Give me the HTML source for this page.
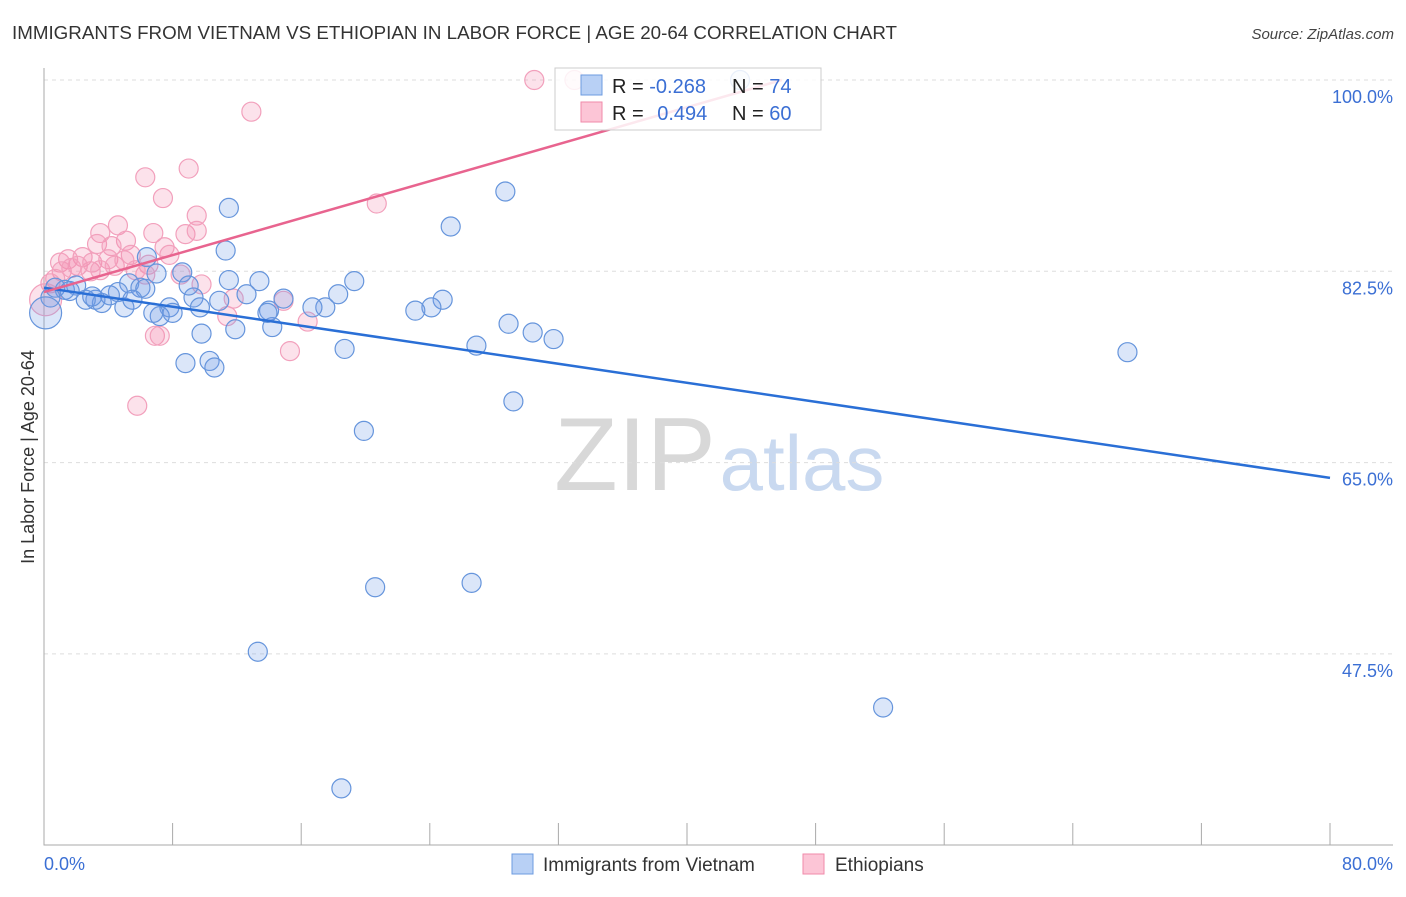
<!DOCTYPE html>
<html><head><meta charset="utf-8"><style>
body{margin:0;background:#fff;font-family:"Liberation Sans",sans-serif;}
svg text{font-family:"Liberation Sans",sans-serif;}
</style></head><body>
<svg id="chart" width="1406" height="892" xmlns="http://www.w3.org/2000/svg">
<text x="12" y="39" font-size="18" fill="#333" textLength="885" lengthAdjust="spacingAndGlyphs">IMMIGRANTS FROM VIETNAM VS ETHIOPIAN IN LABOR FORCE | AGE 20-64 CORRELATION CHART</text>
<text x="1394" y="39" font-size="15" fill="#444" text-anchor="end" font-style="italic">Source: ZipAtlas.com</text>
<text transform="translate(34,457) rotate(-90)" font-size="18" fill="#333" text-anchor="middle">In Labor Force | Age 20-64</text>
<g id="watermark">
<text x="635" y="490" font-size="104" fill="#d8d8d8" text-anchor="middle" font-family="Liberation Serif,serif">ZIP</text>
<text x="802" y="490" font-size="78" fill="#c9d9f0" text-anchor="middle">atlas</text>
</g>
<g id="grid"></g><g id="axes"></g><g id="points"></g><g id="lines"></g>
<g>
<rect x="555" y="68" width="266" height="62" fill="#fff" fill-opacity="0.85" stroke="#ccc"/>
<rect x="581" y="75" width="21" height="20" fill="#b8d0f5" stroke="#6c9be0"/>
<rect x="581" y="102" width="21" height="20" fill="#fcc5d6" stroke="#f08aaa"/>
<text x="612" y="93" font-size="20" fill="#222">R = <tspan fill="#3b6fd4">-0.268</tspan></text>
<text x="732" y="93" font-size="20" fill="#222">N = <tspan fill="#3b6fd4">74</tspan></text>
<text x="612" y="120" font-size="20" fill="#222">R = <tspan fill="#3b6fd4" dx="8">0.494</tspan></text>
<text x="732" y="120" font-size="20" fill="#222">N = <tspan fill="#3b6fd4">60</tspan></text>
</g>
<g>
<rect x="512" y="854" width="21" height="20" fill="#b8d0f5" stroke="#6c9be0"/>
<text x="543" y="871" font-size="19" fill="#333">Immigrants from Vietnam</text>
<rect x="803" y="854" width="21" height="20" fill="#fcc5d6" stroke="#f08aaa"/>
<text x="835" y="871" font-size="19" fill="#333">Ethiopians</text>
</g>
</svg>
<script>
const yTicks=[100,82.5,65,47.5];
const yTickLabels=["100.0%","82.5%","65.0%","47.5%"];
const xTicks=[0,8,16,24,32,40,48,56,64,72,80];
const blueX=[11.5,28.7,25.3,11.3,6.4,8.6,7.0,11.5,13.4,19.3,18.3,24.8,24.1,23.1,17.5,16.7,14.9,12.6,10.9,9.3,7.8,8.0,7.2,6.8,9.7,9.0,5.3,6.0,6.3,4.6,3.6,3.2,2.6,1.3,0.7,0.4,0.1,5.0,5.5,14.0,14.2,11.9,9.8,13.9,18.7,26.9,28.9,30.4,31.7,8.8,10.3,10.6,29.2,19.9,20.6,26.6,13.3,52.2,18.5,67.4,43.3,4.1,2.0,1.6,3.0];
const blueY=[88.3,89.8,86.6,84.4,83.8,82.4,82.3,81.7,81.6,81.6,80.4,79.9,79.2,78.9,79.2,79.2,80.0,80.4,79.8,80.1,79.2,78.7,78.4,78.7,79.2,81.2,81.4,81.0,80.9,80.6,79.6,79.9,79.9,80.8,81.0,80.1,78.7,79.2,79.9,78.9,77.4,77.2,76.8,78.7,75.4,75.7,77.7,76.9,76.3,74.1,74.3,73.7,70.6,67.9,53.6,54.0,47.7,42.6,35.2,75.1,100,80.3,81.2,80.7,80.2];
const pinkX=[30.5,33.0,12.9,9.0,6.3,7.4,9.5,20.7,4.6,6.8,3.5,5.1,8.8,9.5,7.5,3.3,4.2,5.4,7.8,2.4,1.5,1.0,1.1,2.1,2.9,3.0,4.0,6.5,6.3,9.8,11.8,14.9,11.4,16.4,15.3,6.9,7.2,5.8,0.7,0.4,0.1,1.7,3.5,4.4,5.0,5.7,8.5];
const pinkY=[100,100,97.1,91.9,91.1,89.2,87.6,88.7,86.7,86.0,86.0,85.3,85.9,86.2,84.7,85.0,84.8,84.0,84.0,83.8,83.6,83.3,82.5,83.0,82.5,83.3,83.6,83.1,82.2,81.3,80.0,79.8,78.4,77.9,75.2,76.6,76.6,70.2,81.8,81.4,79.9,82.8,82.6,83.0,83.5,82.6,82.2];
const blueTrend=[[0,81.0],[80,63.6]];
const pinkTrend=[[0,80.6],[45.9,100]];
const NS="http://www.w3.org/2000/svg";
const X=v=>44+v/80*1286;
const Y=v=>80+(100-v)/17.5*191.3;
function mk(p,t,a){const e=document.createElementNS(NS,t);for(const k in a)e.setAttribute(k,a[k]);document.getElementById(p).appendChild(e);return e;}
yTicks.forEach((t,i)=>{
 const l=mk('grid','line',{x1:44,x2:1393,y1:Y(t),y2:Y(t),stroke:'#ddd','stroke-dasharray':'4,4'});
 
 
 const tx=mk('grid','text',{x:1393,y:Y(t)+23,'font-size':18,fill:'#3b6fd4','text-anchor':'end'});
 tx.textContent=yTickLabels[i];
 
 
});
const ax=mk('axes','path',{d:'M44,68V845H1393',stroke:'#aaa',fill:'none'});


xTicks.forEach(t=>{
 const l=mk('axes','line',{x1:X(t),x2:X(t),y1:823,y2:845,stroke:'#aaa'});
 
 
});
const x0=mk('axes','text',{x:44,y:870,'font-size':18,fill:'#3b6fd4'});x0.textContent='0.0%';


const x1=mk('axes','text',{x:1393,y:870,'font-size':18,fill:'#3b6fd4','text-anchor':'end'});x1.textContent='80.0%';


pinkX.forEach((v,i)=>{
 const c=mk('points','circle',{cx:X(v),cy:Y(pinkY[i]),r:v<0.3?16:9.5,fill:'rgba(245,140,175,0.25)',stroke:'#f2a0bc','stroke-width':1.2});
 
 
});
blueX.forEach((v,i)=>{
 const c=mk('points','circle',{cx:X(v),cy:Y(blueY[i]),r:v<0.3?16:9.5,fill:'rgba(110,155,230,0.25)',stroke:'#6695dc','stroke-width':1.2});
 
 
});
const bl=mk('lines','line',{x1:X(blueTrend[0][0]),y1:Y(blueTrend[0][1]),x2:X(blueTrend[1][0]),y2:Y(blueTrend[1][1]),stroke:'#2a6fd6','stroke-width':2.5});


const pl=mk('lines','line',{x1:X(pinkTrend[0][0]),y1:Y(pinkTrend[0][1]),x2:X(pinkTrend[1][0]),y2:Y(pinkTrend[1][1]),stroke:'#e8648f','stroke-width':2.5});


</script>
</body></html>
